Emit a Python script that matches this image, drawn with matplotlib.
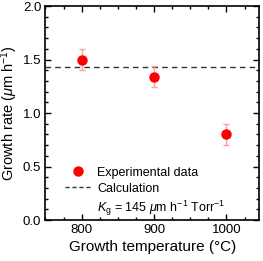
import matplotlib
matplotlib.use("Agg")
import matplotlib.pyplot as plt
from matplotlib.lines import Line2D
from matplotlib.ticker import MultipleLocator

plt.rcParams['font.family'] = ['Liberation Sans', 'DejaVu Sans']
plt.rcParams['mathtext.fontset'] = 'custom'
plt.rcParams['mathtext.rm'] = 'Liberation Sans'
plt.rcParams['mathtext.it'] = 'Liberation Sans:italic'
plt.rcParams['mathtext.bf'] = 'Liberation Sans:bold'

# data
temps = [800, 900, 1000]
rates = [1.50, 1.34, 0.80]
errors = [0.10, 0.10, 0.10]
calc_rate = 1.43

fig = plt.figure(figsize=(2.63, 2.61), dpi=100)
ax = fig.add_axes([0.173, 0.157, 0.812, 0.820])

ax.errorbar(temps, rates, yerr=errors, fmt='none', ecolor='#f4a3a3',
            elinewidth=1.0, capsize=2.5, capthick=1.0, zorder=2)
ax.plot(temps, rates, 'o', color='#ff0000', markersize=6.5, zorder=3)
ax.axhline(calc_rate, color='#333333', linestyle=(0, (4, 3)), linewidth=1.0, zorder=1)

ax.set_xlim(750, 1045)
ax.set_ylim(0, 2.0)
ax.xaxis.set_major_locator(MultipleLocator(100))
ax.xaxis.set_minor_locator(MultipleLocator(25))
ax.yaxis.set_major_locator(MultipleLocator(0.5))
ax.yaxis.set_minor_locator(MultipleLocator(0.1))
ax.tick_params(which='both', direction='in', top=True, right=True, width=1.0,
               labelsize=9.5, pad=3)
ax.tick_params(which='major', length=4)
ax.tick_params(which='minor', length=2.5)
for s in ax.spines.values():
    s.set_linewidth(1.2)

ax.set_xlabel('Growth temperature (°C)', fontsize=11, labelpad=3)
ax.set_ylabel(r'Growth rate ($\mu$m h$^{-1}$)', fontsize=10.5)
ax.yaxis.set_label_coords(-0.118, 0.5)

handles = [
    Line2D([], [], marker='o', color='#ff0000', linestyle='none', markersize=6.5),
    Line2D([], [], color='#333333', linestyle=(0, (3, 2)), linewidth=1.0),
    Line2D([], [], linestyle='none'),
]
labels = ['Experimental data', 'Calculation',
          r'$K_\mathrm{g}$ = 145 $\mu$m h$^{-1}$ Torr$^{-1}$']
ax.legend(handles, labels, loc='upper left', bbox_to_anchor=(0.068, 0.272),
          frameon=False, fontsize=9, handlelength=2.0, handletextpad=0.55,
          labelspacing=0.3, borderaxespad=0)

fig.savefig('out.png', dpi=100)
